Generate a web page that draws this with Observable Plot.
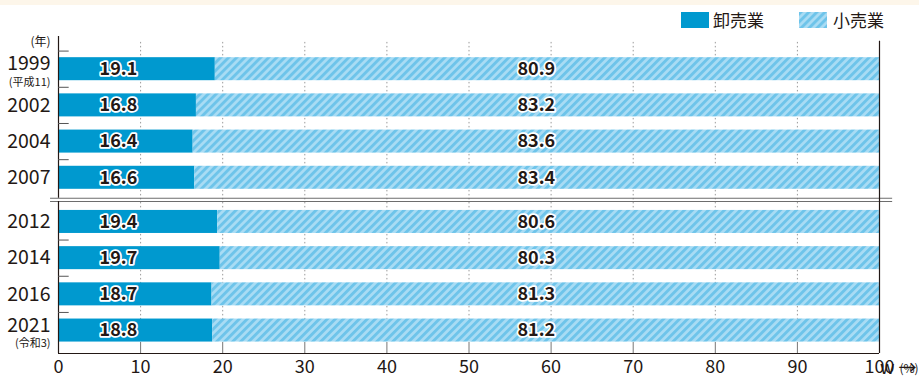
<!DOCTYPE html>
<html><head><meta charset="utf-8">
<script src="https://cdn.jsdelivr.net/npm/d3@7"></script>
<script src="https://cdn.jsdelivr.net/npm/@observablehq/plot@0.6"></script>
<style>
body{margin:0;background:#fff;font-family:"Noto Sans CJK JP",sans-serif;color:#231815}
#wrap{position:relative;width:919px;height:376px;overflow:hidden}
#band{position:absolute;left:0;top:0;width:919px;height:5px;background:#fdf6ea}
.sw{position:absolute;top:12px;width:28px;height:16px}
.lt{position:absolute;top:11px;font-size:17px;line-height:18px;white-space:nowrap}
#chart{position:absolute;left:0;top:36px}
</style></head>
<body>
<div id="wrap">
  <div id="band"></div>
  <div id="legend"></div>
  <div id="chart"></div>
</div>
<script>
const years = ["1999","2002","2004","2007","2012","2014","2016","2021"];
const eraNotes = ["(平成11)","","","","","","","(令和3)"];
const wholesale = [19.1,16.8,16.4,16.6,19.4,19.7,18.7,18.8];
const retail = [80.9,83.2,83.6,83.4,80.6,80.3,81.3,81.2];
const groups = [0,0,0,0,1,1,1,1];
const xTicks = [0,10,20,30,40,50,60,70,80,90,100];
const seriesNames = ["卸売業","小売業"];
const yearUnit = "(年)";
const pctUnit = "(%)";

const BLUE = "#0099cf";
const INK = "#231815";
const GAP = 0.22, HALF = 0.318;
const yTop = -0.903, yBottom = 7.854;

const rows = years.map((year, i) => ({year, note: eraNotes[i], w: wholesale[i], r: retail[i], pos: i + groups[i] * GAP}));
const breakPos = (rows[3].pos + rows[4].pos) / 2;
const leftTicks = rows.flatMap((d, i) => i === 0 ? [d.pos - 0.5] : (groups[i] === groups[i - 1] ? [(d.pos + rows[i - 1].pos) / 2] : []));
const inner = xTicks.slice(1, -1);

// legend
const legend = document.getElementById("legend");
legend.innerHTML = `
  <div class="sw" style="left:681px;background:${BLUE}"></div>
  <div class="lt" style="left:713px">${seriesNames[0]}</div>
  <svg class="sw" style="left:799px" width="28" height="16"><rect width="28" height="16" fill="url(#hatchL)"/></svg>
  <div class="lt" style="left:833px">${seriesNames[1]}</div>`;

const font = "'Noto Sans CJK JP', sans-serif";
const plot = Plot.plot({
  width: 919, height: 340,
  marginLeft: 58, marginRight: 40, marginTop: 0, marginBottom: 23,
  style: {fontFamily: font, color: INK, background: "transparent", overflow: "visible"},
  x: {domain: [0, 100], axis: null},
  y: {domain: [yTop, yBottom], reverse: true, axis: null},
  marks: [
    Plot.ruleX(inner, {y1: -0.74, y2: 7.55, stroke: "#9a9a9a", strokeDasharray: "1.5,2.5", strokeWidth: 1}),
    Plot.ruleX(inner, {y1: 7.55, y2: yBottom, stroke: "#777", strokeWidth: 1}),
    Plot.rect(rows, {x1: 0, x2: "w", y1: d => d.pos - HALF, y2: d => d.pos + HALF, fill: BLUE}),
    Plot.rect(rows, {x1: "w", x2: d => d.w + d.r, y1: d => d.pos - HALF, y2: d => d.pos + HALF, fill: "url(#hatch)"}),
    Plot.ruleY([breakPos - 0.045, breakPos + 0.045], {x1: -0.97, x2: 101.6, stroke: "#6d6d6d", strokeWidth: 1.2}),
    Plot.ruleX([0], {y1: yTop, y2: breakPos - 0.045, stroke: INK, strokeWidth: 1.2}),
    Plot.ruleX([0], {y1: breakPos + 0.045, y2: yBottom, stroke: INK, strokeWidth: 1.2}),
    Plot.ruleX([100], {y1: -0.77, y2: yBottom, stroke: INK, strokeWidth: 1.2}),
    Plot.ruleY([yBottom], {x1: 0, x2: 100, stroke: INK, strokeWidth: 1.2}),
    Plot.ruleY(leftTicks, {x1: 0, x2: 1.3, stroke: "#555", strokeWidth: 1}),
    Plot.text(rows, {x: 7.3, y: "pos", text: d => d.w.toFixed(1), fontWeight: 700, fontSize: 18, fill: INK, stroke: "white", strokeWidth: 3.5, paintOrder: "stroke", strokeLinejoin: "round"}),
    Plot.text(rows, {x: 58.2, y: "pos", text: d => d.r.toFixed(1), fontWeight: 700, fontSize: 18, fill: INK, stroke: "white", strokeWidth: 3.5, paintOrder: "stroke", strokeLinejoin: "round"}),
    Plot.text(rows, {filter: d => d.note, y: "pos", text: "year", frameAnchor: "left", dx: -8, dy: -5, textAnchor: "end", fontSize: 19.5, fill: INK}),
    Plot.text(rows, {filter: d => !d.note, y: "pos", text: "year", frameAnchor: "left", dx: -8, textAnchor: "end", fontSize: 19.5, fill: INK}),
    Plot.text(rows, {filter: d => d.note, y: "pos", text: "note", frameAnchor: "left", dx: -8, dy: 13, textAnchor: "end", fontSize: 11, fill: INK}),
    Plot.text([yearUnit], {y: -0.74, text: d => d, frameAnchor: "left", dx: -8, textAnchor: "end", fontSize: 12, fill: INK}),
    Plot.axisX(xTicks, {tickSize: 0, tickPadding: 7, fontSize: 18, fill: INK}),
    Plot.text([pctUnit], {x: 100, y: yBottom, text: d => d, dx: 20, dy: 16, textAnchor: "start", fontSize: 12, fill: INK})
  ]
});

const defs = d3.select(plot).insert("defs", ":first-child");
function addHatch(sel, id) {
  const p = sel.append("pattern").attr("id", id).attr("patternUnits", "userSpaceOnUse")
    .attr("width", 5.66).attr("height", 10).attr("patternTransform", "rotate(45)");
  p.append("rect").attr("width", 5.66).attr("height", 10).attr("fill", "#a9dcf4");
  p.append("rect").attr("width", 2.9).attr("height", 10).attr("fill", "#6ec4ea");
}
addHatch(defs, "hatch");
const lsvg = d3.select(legend).select("svg");
addHatch(lsvg.insert("defs", ":first-child"), "hatchL");
document.getElementById("chart").appendChild(plot);
</script>
</body></html>
